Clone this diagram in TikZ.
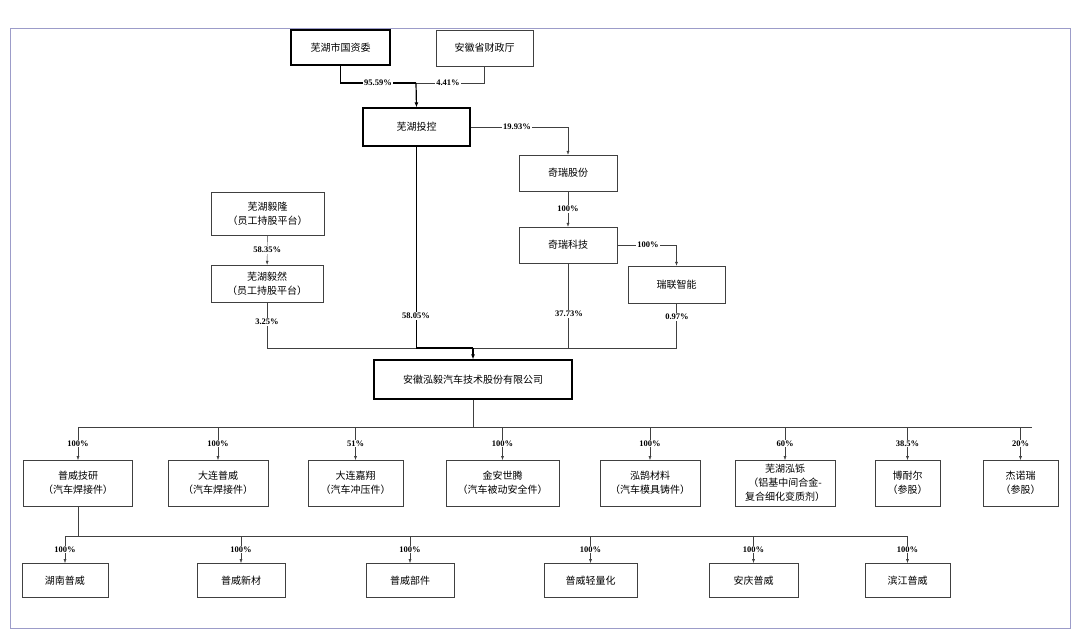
\documentclass[tikz,border=0pt]{standalone}
\usepackage{fontspec}
\setmainfont{Liberation Serif}
\newfontfamily\cjk{Noto Sans CJK SC}
\usetikzlibrary{arrows.meta,positioning,calc}
\tikzset{
    org/.style={draw=black!75, thin, align=center, font=\cjk\fontsize{10}{14}\selectfont, inner sep=2pt},
    orgT/.style={org, very thick, draw=black},
    pct/.style={fill=white, inner sep=1pt, font=\bfseries\fontsize{8.5}{9}\selectfont},
    lnk/.style={draw=black!75, thin},
    arr/.style={lnk, -{Latex[length=4pt,width=3pt]}}
}
\begin{document}
\begin{tikzpicture}[x=1pt,y=-1pt]
    \useasboundingbox (0,0) rectangle (1080,640);
    \draw[draw=blue!30!gray!60, line width=1pt] (10,28) rectangle (1070,628);
    % top holders
    \node[orgT, minimum width=99, minimum height=35] (gzw) at (340.5,47.5) {芜湖市国资委};
    \node[org, minimum width=97, minimum height=36] (czt) at (484.5,48) {安徽省财政厅};
    \node[orgT, minimum width=107, minimum height=38] (tk) at (416.5,127) {芜湖投控};
    \node[org, minimum width=98, minimum height=36] (qrgf) at (568,173) {奇瑞股份};
    \node[org, minimum width=98, minimum height=36] (qrkj) at (568,245) {奇瑞科技};
    \node[org, minimum width=97, minimum height=37] (rlzn) at (676.5,284.5) {瑞联智能};
    \node[org, minimum width=113, minimum height=43] (yl) at (267.5,213.5) {芜湖毅隆\\（员工持股平台）};
    \node[org, minimum width=112, minimum height=37] (yr) at (267,283.5) {芜湖毅然\\（员工持股平台）};
    \node[orgT, minimum width=198, minimum height=39] (hy) at (473,379.5) {安徽泓毅汽车技术股份有限公司};
    \coordinate (j1) at (416,83);
    \coordinate (j2) at (473,348);
    \coordinate (j3) at (473,427);
    \coordinate (j4) at (78,536);
    % upper links
    \draw[lnk, very thick, draw=black] (gzw.south) |- (j1);
    \draw[lnk] (czt.south) |- (j1);
    \draw[very thick, -{Latex[length=5pt,width=4pt]}] (j1) -- (tk.north);
    \node[pct] at (378,83) {95.59\%};
    \node[pct] at (448,83) {4.41\%};
    \draw[arr] (tk.east) -| (qrgf.north);
    \node[pct] at (517,127) {19.93\%};
    \draw[arr] (qrgf) -- node[pct]{100\%} (qrkj);
    \draw[arr] (qrkj.east) -| (rlzn.north);
    \node[pct] at (648,245) {100\%};
    \draw[arr] (yl) -- node[pct]{58.35\%} (yr);
    % into company
    \draw[lnk] (yr.south) |- (j2);
    \draw[lnk] (qrkj.south) |- (j2);
    \draw[lnk] (rlzn.south) |- (j2);
    \draw[very thick] (tk.south) |- (j2);
    \draw[very thick, -{Latex[length=5pt,width=4pt]}] (j2) -- (hy.north);
    \node[pct] at (267,322) {3.25\%};
    \node[pct] at (416,316) {58.05\%};
    \node[pct] at (569,314) {37.73\%};
    \node[pct] at (677,317) {0.97\%};
    % subsidiaries
    \draw[lnk] (hy.south) -- (j3);
    \draw[lnk] (78,427) -- (1032,427);
    \foreach \n/\x/\w/\p/\t in {
        s1/78/109/100/{普威技研\\（汽车焊接件）},
        s2/218/100/100/{大连普威\\（汽车焊接件）},
        s3/355.5/95/51/{大连嘉翔\\（汽车冲压件）},
        s4/502.5/113/100/{金安世腾\\（汽车被动安全件）},
        s5/650/100/100/{泓鹄材料\\（汽车模具铸件）},
        s6/785/100/60/{芜湖泓铄\\（铝基中间合金-\\复合细化变质剂）},
        s7/907.5/65/38.5/{博耐尔\\（参股）},
        s8/1020.5/75/20/{杰诺瑞\\（参股）}}{
        \node[org, minimum width=\w, minimum height=46, anchor=north] (\n) at (\x,460) {\t};
        \draw[arr] (\x,427) -- node[pct]{\p\%} (\n.north);
    }
    \draw[lnk] (s1.south) -- (j4);
    \draw[lnk] (65,536) -- (908,536);
    \foreach \n/\x/\w/\t in {
        g1/65/86/湖南普威, g2/241/88/普威新材, g3/410/88/普威部件,
        g4/590.5/93/普威轻量化, g5/753.5/89/安庆普威, g6/907.5/85/滨江普威}{
        \node[org, minimum width=\w, minimum height=34, anchor=north] (\n) at (\x,563) {\t};
        \draw[arr] (\x,536) -- node[pct]{100\%} (\n.north);
    }
\end{tikzpicture}
\end{document}
